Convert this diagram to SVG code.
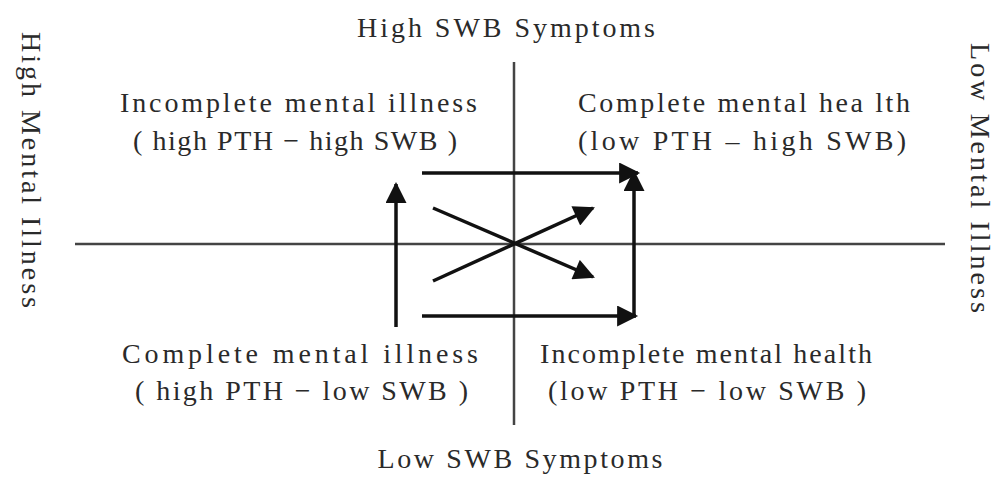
<svg xmlns="http://www.w3.org/2000/svg" width="995" height="477" viewBox="0 0 995 477">
<style>
text{font-family:"Liberation Serif","Times New Roman",serif;font-size:28px;fill:#2a2a2a}
.ax{stroke:#444;stroke-width:2.5;fill:none}
.ar{stroke:#111;stroke-width:3.5;fill:none;marker-end:url(#ah)}
</style>
<defs>
<marker id="ah" viewBox="0 0 10 10" refX="9" refY="5" markerWidth="6.5" markerHeight="6" markerUnits="strokeWidth" orient="auto">
<path d="M0,0 L10,5 L0,10 Z" fill="#111"/>
</marker>
</defs>
<rect width="995" height="477" fill="#fff"/>
<g id="axes">
<line class="ax" x1="514" y1="62" x2="514" y2="425"/>
<line class="ax" x1="75" y1="244" x2="945" y2="244"/>
</g>
<g id="connectors">
<line class="ar" x1="422" y1="173" x2="638" y2="173"/>
<line class="ar" x1="396" y1="327" x2="396" y2="184"/>
<line class="ar" x1="433" y1="208" x2="593" y2="277"/>
<line class="ar" x1="433" y1="281" x2="593" y2="208"/>
<line class="ar" x1="422" y1="316" x2="636" y2="316"/>
<polyline class="ar" points="634,316 634,172"/>
</g>
<g id="top-label"><text x="506" y="37" text-anchor="middle" textLength="298" lengthAdjust="spacing">High SWB Symptoms</text></g>
<g id="bottom-label"><text x="520" y="468" text-anchor="middle" textLength="285" lengthAdjust="spacing">Low SWB Symptoms</text></g>
<g id="left-label"><text transform="translate(22,170) rotate(90)" text-anchor="middle" textLength="276" lengthAdjust="spacing">High Mental Illness</text></g>
<g id="right-label"><text transform="translate(971,178) rotate(90)" text-anchor="middle" font-size="27" textLength="270" lengthAdjust="spacing">Low Mental Illness</text></g>
<g id="q-top-left">
<text x="120" y="112" textLength="357" lengthAdjust="spacing">Incomplete  mental  illness</text>
<text x="133" y="150" textLength="324" lengthAdjust="spacing">( high PTH − high SWB )</text>
</g>
<g id="q-top-right">
<text x="578" y="112" textLength="332" lengthAdjust="spacing">Complete  mental hea lth</text>
<text x="578" y="150" textLength="328" lengthAdjust="spacing">(low PTH –  high SWB)</text>
</g>
<g id="q-bottom-left">
<text x="122" y="363" textLength="356" lengthAdjust="spacing">Complete   mental   illness</text>
<text x="135" y="400" textLength="333" lengthAdjust="spacing">( high PTH − low SWB )</text>
</g>
<g id="q-bottom-right">
<text x="540" y="363" textLength="332" lengthAdjust="spacing">Incomplete mental health</text>
<text x="548" y="400" textLength="318" lengthAdjust="spacing">(low PTH − low SWB )</text>
</g>
</svg>
